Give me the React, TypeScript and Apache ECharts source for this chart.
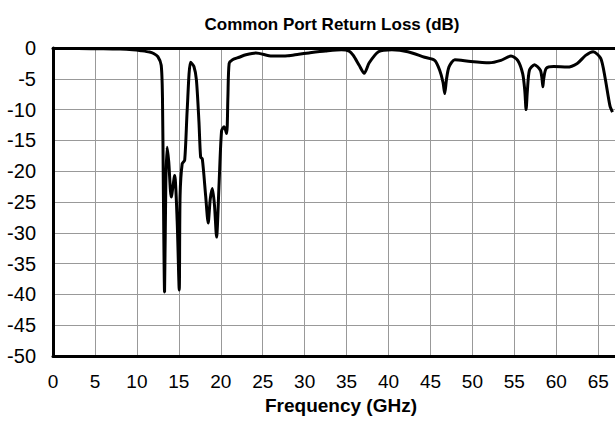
import React, { useEffect, useRef } from "react";
import * as echarts from "echarts";

const freqGHz: number[] = [
  0, 3, 6, 8, 9.5, 10.5, 11.5, 12.0, 12.5, 12.9, 13.05, 13.15, 13.3, 13.45, 13.6,
  13.8, 14.1, 14.5, 14.8, 15.05, 15.15, 15.4, 15.7, 16.0, 16.4, 16.8, 17.1, 17.4,
  17.6, 17.8, 18.2, 18.5, 18.75, 19.0, 19.25, 19.5, 19.8, 20.1, 20.4, 20.7, 20.85,
  21.0, 21.4, 22.2, 23.0, 24.2, 26.1, 28.0, 29.3, 30.5, 32.5, 34.4, 35.3, 35.8,
  36.5, 37.1, 37.7, 38.8, 40.4, 42.3, 44.3, 45.5, 46.1, 46.5, 46.7, 46.9, 47.2,
  47.9, 49.8, 52.0, 53.4, 54.6, 55.4, 56.0, 56.25, 56.4, 56.55, 56.8, 57.4, 58.1,
  58.3, 58.4, 58.5, 58.8, 59.7, 61.3, 62.5, 63.5, 64.4, 65.3, 65.8, 66.4, 66.7,
];

const returnLossDb: number[] = [
  -0.1, -0.1, -0.12, -0.18, -0.3, -0.45, -0.65, -0.9, -1.4, -2.8, -8, -22, -39.6,
  -22, -16.1, -18.5, -24.2, -20.7, -28, -39.3, -24, -18.8, -18.2, -10, -2.3, -3.0,
  -5.2, -12, -17.7, -18.0, -24, -28.4, -24.5, -22.8, -25.5, -30.7, -22, -13.4,
  -12.8, -13.9, -8, -2.5, -1.9, -1.5, -1.1, -0.8, -1.3, -1.25, -1.0, -0.8, -0.5,
  -0.3, -0.5, -1.2, -2.8, -4.1, -2.4, -0.6, -0.3, -0.6, -1.5, -2.0, -3.6, -5.6,
  -7.4, -5.2, -3.1, -1.9, -2.2, -2.4, -2.0, -1.3, -2.0, -4.2, -7.0, -10.0, -7.0,
  -3.6, -2.7, -3.6, -5.0, -6.3, -5.0, -3.3, -3.0, -3.1, -2.5, -1.2, -0.6, -1.7,
  -4.7, -9.4, -10.4,
];

const xTicks: number[] = [0, 5, 10, 15, 20, 25, 30, 35, 40, 45, 50, 55, 60, 65];
const yTicks: number[] = [0, -5, -10, -15, -20, -25, -30, -35, -40, -45, -50];

export default function App() {
  const ref = useRef<HTMLDivElement>(null);
  useEffect(() => {
    if (!ref.current) return;
    const chart = echarts.init(ref.current, undefined, { renderer: "svg" });
    const font = "'Liberation Sans', Arial, Helvetica, sans-serif";
    chart.setOption({
      animation: false,
      backgroundColor: "#ffffff",
      title: {
        text: "Common Port Return Loss (dB)",
        left: 327,
        textAlign: "center",
        top: 11,
        textStyle: { fontFamily: font, fontSize: 17, fontWeight: "bold", color: "#000" },
      },
      grid: { left: 53, top: 48, width: 565, height: 308, containLabel: false },
      xAxis: [
        {
          type: "value",
          min: 0,
          max: 67,
          interval: 5,
          name: "Frequency (GHz)",
          nameLocation: "middle",
          nameGap: 40,
          nameTextStyle: {
            fontFamily: font,
            fontSize: 19,
            fontWeight: "bold",
            color: "#000",
            padding: [0, 0, 0, 14],
          },
          axisLine: { show: true, onZero: false, lineStyle: { color: "#000", width: 3 } },
          axisTick: { show: false },
          axisLabel: {
            fontFamily: font,
            fontSize: 19,
            color: "#000",
            margin: 16,
            customValues: xTicks,
            formatter: (v: number) => String(v),
          },
          splitLine: { show: true, lineStyle: { color: "#999", width: 1 } },
        },
        {
          type: "value",
          position: "top",
          min: 0,
          max: 67,
          axisLine: { show: true, onZero: false, lineStyle: { color: "#000", width: 3 } },
          axisTick: { show: false },
          axisLabel: { show: false },
          splitLine: { show: false },
        },
      ],
      yAxis: {
        type: "value",
        min: -50,
        max: 0,
        interval: 5,
        axisLine: { show: true, onZero: false, lineStyle: { color: "#000", width: 3 } },
        axisTick: { show: false },
        axisLabel: {
          fontFamily: font,
          fontSize: 20,
          color: "#000",
          margin: 17,
          customValues: yTicks,
        },
        splitLine: { show: true, lineStyle: { color: "#999", width: 1 } },
      },
      series: [
        {
          type: "line",
          xAxisIndex: 0,
          data: freqGHz.map((f, i) => [f, returnLossDb[i]]),
          showSymbol: false,
          smooth: 0.25,
          lineStyle: { color: "#000", width: 3 },
          clip: true,
        },
      ],
    });
    return () => chart.dispose();
  }, []);
  return (
    <div
      ref={ref}
      style={{ position: "fixed", left: 0, top: 0, width: 615, height: 421, overflow: "hidden" }}
    />
  );
}
